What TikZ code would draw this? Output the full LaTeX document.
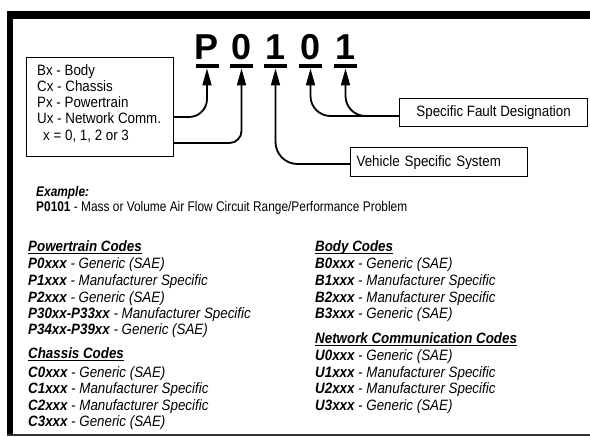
\documentclass[tikz,border=0pt]{standalone}
\usepackage{fontspec}
\setmainfont{Liberation Sans}[FakeStretch=0.89]
\newfontfamily\bigfont{Liberation Sans}
\newfontfamily\exfont{Liberation Sans}[FakeStretch=0.85]
\usetikzlibrary{arrows.meta}
\begin{document}
\begin{tikzpicture}[x=1pt,y=-1pt,
  txt/.style={inner sep=0pt, anchor=base west, font=\fontsize{15}{16}\selectfont},
  extxt/.style={inner sep=0pt, anchor=base west, font=\exfont\fontsize{14}{15}\selectfont},
  lst/.style={inner sep=0pt, anchor=base west, font=\fontsize{15}{16}\selectfont\itshape},
  bar/.style={fill=black, minimum width=23pt, minimum height=4.5pt, inner sep=0pt},
  big/.style={inner sep=0pt, anchor=base, font=\bigfont\bfseries\fontsize{36}{36}\selectfont},
  conn/.style={line width=1.8pt, -{Triangle[length=17pt,width=9pt]}},
  boxed/.style={draw, line width=1.3pt, inner sep=0pt, anchor=north west, font=\fontsize{15}{16}\selectfont},
  uline/.style={line width=1.1pt}]
\useasboundingbox (0,0) rectangle (590,437);
% frame
\fill (7,11) rectangle (590,19);
\fill (7,11) rectangle (13,435.5);
\fill[black!80] (7,433.8) rectangle (590,435.5);
% big code letters
\node[big] (cP) at (207,59.5) {P};
\node[big] (c0) at (241.5,59.5) {0};
\node[big] (c1) at (275.5,59.5) {1};
\node[big] (c2) at (310.5,59.5) {0};
\node[big] (c3) at (345.5,59.5) {1};
\node[bar] (bP) at (207,66) {};
\node[bar] (b0) at (241.5,66) {};
\node[bar] (b1) at (275.5,66) {};
\node[bar] (b2) at (310.5,66) {};
\node[bar] (b3) at (345.5,66) {};
% left box
\node[boxed, minimum width=147pt, minimum height=98.5pt] (lb) at (25.5,57) {};
\node[txt] (l1) at (37,75) {Bx - Body};
\node[txt] (l2) at (37,91.5) {Cx - Chassis};
\node[txt] (l3) at (37,107.5) {Px - Powertrain};
\node[txt] (l4) at (37,123.5) {Ux - Network Comm.};
\node[txt] (l5) at (43,140) {x = 0, 1, 2 or 3};
% right boxes
\node[boxed, minimum width=188pt, minimum height=28pt] (fd) at (399,98) {Specific Fault Designation};
\node[boxed, minimum height=29pt, text width=165pt, inner xsep=6pt, align=left] (vs) at (350,147) {Vehicle Specific System};
% connectors
\draw[conn, rounded corners=18pt] (lb.east |- 0,117) -| (bP.south);
\draw[conn, rounded corners=12pt] (lb.east |- 0,143) -| (b0.south);
\draw[conn, rounded corners=22pt] (vs.west |- 0,164) -| (b1.south);
\draw[conn, rounded corners=20pt] (fd.west |- 0,116) -| (b2.south);
\draw[conn, rounded corners=20pt] (fd.west |- 0,116) -| (b3.south);
% example
\node[extxt] (ex1) at (36,196) {\bfseries\itshape Example:};
\node[extxt] (ex2) at (36,211) {\textbf{P0101} - Mass or Volume Air Flow Circuit Range/Performance Problem};
% powertrain
\node[lst] (hP) at (28,251) {\bfseries Powertrain Codes};
\draw[uline] ([yshift=-2.5pt]hP.base west) -- ([yshift=-2.5pt]hP.base east);
\node[lst] (p0) at (28,268) {\textbf{P0xxx} - Generic (SAE)};
\node[lst] (p1) at (28,285) {\textbf{P1xxx} - Manufacturer Specific};
\node[lst] (p2) at (28,302) {\textbf{P2xxx} - Generic (SAE)};
\node[lst] (p3) at (28,318) {\textbf{P30xx-P33xx} - Manufacturer Specific};
\node[lst] (p4) at (28,334) {\textbf{P34xx-P39xx} - Generic (SAE)};
% chassis
\node[lst] (hC) at (28,358) {\bfseries Chassis Codes};
\draw[uline] ([yshift=-2.5pt]hC.base west) -- ([yshift=-2.5pt]hC.base east);
\node[lst] (q0) at (28,377) {\textbf{C0xxx} - Generic (SAE)};
\node[lst] (q1) at (28,393) {\textbf{C1xxx} - Manufacturer Specific};
\node[lst] (q2) at (28,410) {\textbf{C2xxx} - Manufacturer Specific};
\node[lst] (q3) at (28,426) {\textbf{C3xxx} - Generic (SAE)};
% body
\node[lst] (hB) at (315,251) {\bfseries Body Codes};
\draw[uline] ([yshift=-2.5pt]hB.base west) -- ([yshift=-2.5pt]hB.base east);
\node[lst] (r0) at (315,268) {\textbf{B0xxx} - Generic (SAE)};
\node[lst] (r1) at (315,285) {\textbf{B1xxx} - Manufacturer Specific};
\node[lst] (r2) at (315,302) {\textbf{B2xxx} - Manufacturer Specific};
\node[lst] (r3) at (315,318) {\textbf{B3xxx} - Generic (SAE)};
% network
\node[lst] (hU) at (315,343) {\bfseries Network Communication Codes};
\draw[uline] ([yshift=-2.5pt]hU.base west) -- ([yshift=-2.5pt]hU.base east);
\node[lst] (u0) at (315,360) {\textbf{U0xxx} - Generic (SAE)};
\node[lst] (u1) at (315,377) {\textbf{U1xxx} - Manufacturer Specific};
\node[lst] (u2) at (315,393) {\textbf{U2xxx} - Manufacturer Specific};
\node[lst] (u3) at (315,410) {\textbf{U3xxx} - Generic (SAE)};
\end{tikzpicture}
\end{document}
